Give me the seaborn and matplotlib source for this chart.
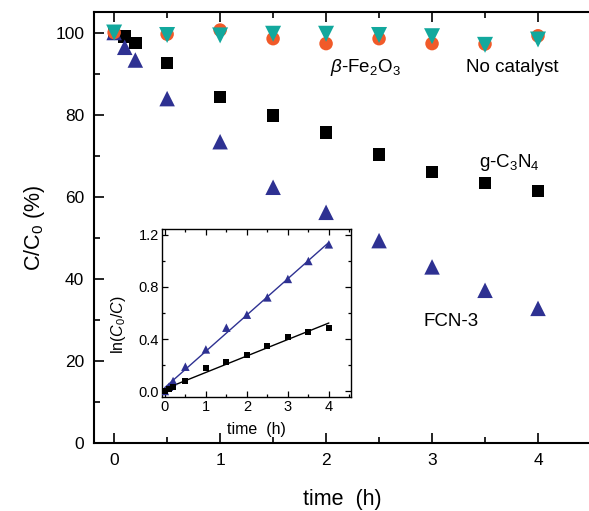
import numpy as np
import pandas as pd
import matplotlib
matplotlib.use("Agg")
import matplotlib.pyplot as plt
from matplotlib.ticker import MultipleLocator, FormatStrFormatter
import seaborn as sns

# ---- degradation data, C/C0 (%) ----
t_fast = [0, 0.1, 0.2, 0.5, 1, 1.5, 2, 2.5, 3, 3.5, 4]
t_slow = [0, 0.5, 1, 1.5, 2, 2.5, 3, 3.5, 4]

gcn = [100, 99.0, 97.5, 92.6, 84.3, 79.8, 75.6, 70.3, 66.0, 63.3, 61.4]
fcn3 = [100, 96.4, 93.3, 83.9, 73.4, 62.3, 56.2, 49.3, 42.9, 37.2, 32.8]
fe2o3 = [100, 99.6, 100.6, 98.5, 97.3, 98.5, 97.3, 97.2, 99.2]
blank = [100, 99.4, 99.3, 99.7, 99.7, 99.4, 99.1, 97.0, 98.3]

# ---- kinetics, ln(C0/C) ----
ln_fcn3 = [0, 0.033, 0.077, 0.187, 0.32, 0.487, 0.587, 0.72, 0.862, 1.0, 1.128]
ln_gcn = [0, 0.013, 0.028, 0.077, 0.174, 0.22, 0.28, 0.35, 0.415, 0.454, 0.487]

navy = "#2E3192"
black = "#000000"
orange = "#F15A29"
teal = "#12A89D"

sns.set_theme(style="ticks")
plt.rcParams["font.family"] = ["Liberation Sans", "DejaVu Sans"]
plt.rcParams["mathtext.fontset"] = "custom"
plt.rcParams["mathtext.rm"] = "Liberation Sans"
plt.rcParams["mathtext.it"] = "Liberation Sans:italic"
plt.rcParams["mathtext.default"] = "regular"
plt.rcParams["text.color"] = "black"
plt.rcParams["axes.labelcolor"] = "black"

fig = plt.figure(figsize=(5.89, 5.11), dpi=100)
W, H = 589, 511
ax = fig.add_axes([94 / W, 68 / H, 497 / W, 431 / H])

def pts(px):
    return (px * 72 / 100) ** 2

sns.scatterplot(x=t_fast, y=gcn, marker="s", color=black, s=pts(12.5),
                edgecolor="none", ax=ax, zorder=3)
sns.scatterplot(x=t_fast, y=fcn3, marker="^", color=navy, s=pts(15.5),
                edgecolor="none", ax=ax, zorder=4)
sns.scatterplot(x=t_slow, y=fe2o3, marker="o", color=orange, s=pts(13.5),
                edgecolor="none", ax=ax, zorder=5)
sns.scatterplot(x=t_slow, y=blank, marker="v", color=teal, s=pts(16),
                edgecolor="none", ax=ax, zorder=6)

ax.set_xlim(-0.19, 4.5)
ax.set_ylim(0, 105)
ax.xaxis.set_major_locator(MultipleLocator(1))
ax.xaxis.set_minor_locator(MultipleLocator(0.5))
ax.yaxis.set_major_locator(MultipleLocator(20))
ax.yaxis.set_minor_locator(MultipleLocator(10))
ax.tick_params(which="both", direction="in", top=True, right=False,
               labelsize=12.5, color="black", labelcolor="black", width=1.2)
ax.tick_params(which="major", length=7, pad=7)
ax.tick_params(which="minor", length=4)
for sp in ax.spines.values():
    sp.set_linewidth(1.5)
    sp.set_color("black")

ax.set_xlabel("time  (h)", fontsize=15.5, labelpad=15.5)
ax.set_ylabel("C/C$_0$ (%)", fontsize=15.5, labelpad=6)

ax.text(2.37, 91.5, r"$\it{\beta}$-Fe$_2$O$_3$", fontsize=13.5, ha="center", va="center")
ax.text(3.76, 91.5, "No catalyst", fontsize=13.5, ha="center", va="center")
ax.text(3.73, 68.4, "g-C$_3$N$_4$", fontsize=13.5, ha="center", va="center")
ax.text(3.18, 29.7, "FCN-3", fontsize=13.5, ha="center", va="center")

# ---- inset: pseudo-first-order kinetics ----
ins = fig.add_axes([162 / W, (H - 397) / H, 189 / W, 168 / H])
sns.regplot(x=t_fast, y=ln_fcn3, scatter=False, ci=None, color=navy,
            line_kws={"lw": 1.0}, ax=ins)
sns.regplot(x=t_fast, y=ln_gcn, scatter=False, ci=None, color=black,
            line_kws={"lw": 1.0}, ax=ins)
sns.scatterplot(x=t_fast, y=ln_fcn3, marker="^", color=navy, s=pts(8.5),
                edgecolor="none", ax=ins, zorder=4)
sns.scatterplot(x=t_fast, y=ln_gcn, marker="s", color=black, s=pts(6),
                edgecolor="none", ax=ins, zorder=4)

ins.set_xlim(-0.07, 4.54)
ins.set_ylim(-0.046, 1.246)
ins.xaxis.set_major_locator(MultipleLocator(1))
ins.xaxis.set_minor_locator(MultipleLocator(0.5))
ins.yaxis.set_major_locator(MultipleLocator(0.4))
ins.yaxis.set_minor_locator(MultipleLocator(0.2))
ins.yaxis.set_major_formatter(FormatStrFormatter("%.1f"))
ins.tick_params(which="both", direction="in", top=True, right=True,
                labelsize=10.5, color="black", labelcolor="black", width=0.9)
ins.tick_params(which="major", length=4, pad=2)
ins.tick_params(which="minor", length=2.5)
for sp in ins.spines.values():
    sp.set_linewidth(1.0)
    sp.set_color("black")
ins.set_xlabel("time  (h)", fontsize=11.5, labelpad=6)
ins.set_ylabel(r"ln($\it{C}_0$/$\it{C}$)", fontsize=11.5)
ins.yaxis.set_label_coords(-0.18, 0.43)

fig.savefig("out.png", dpi=100)
